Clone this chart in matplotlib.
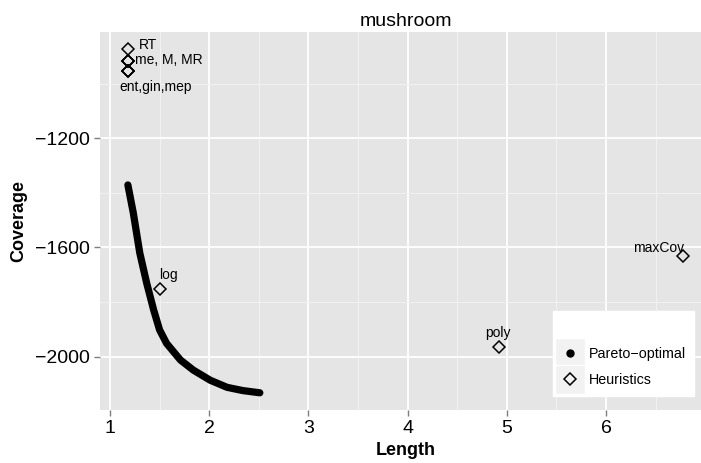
import matplotlib
matplotlib.use("Agg")
import matplotlib.pyplot as plt
from matplotlib.lines import Line2D
from matplotlib.patches import Rectangle
from matplotlib.legend_handler import HandlerLine2D

plt.rcParams['font.family'] = ['Liberation Sans', 'DejaVu Sans']

# Pareto-optimal front
pareto_len = [1.18, 1.235, 1.30, 1.37, 1.44, 1.50, 1.57, 1.71, 1.84, 2.01, 2.18, 2.34, 2.51]
pareto_cov = [-1371, -1474, -1620, -1731, -1829, -1902, -1951, -2012, -2049, -2086, -2112, -2124, -2132]

# heuristics
heur_names = ["RT", "me", "M", "MR", "ent", "gin", "mep", "log", "poly", "maxCov"]
heur_len = [1.18, 1.18, 1.18, 1.18, 1.18, 1.18, 1.18, 1.50, 4.92, 6.78]
heur_cov = [-873, -917, -917, -917, -954, -954, -954, -1751, -1963, -1630]

# text labels shown next to the heuristics
label_text = ["RT", "me, M, MR", "ent,gin,mep", "log", "poly", "maxCov"]
label_len = [1.18, 1.18, 1.18, 1.50, 4.92, 6.78]
label_cov = [-873, -917, -954, -1751, -1963, -1630]
label_off = [(11, 4), (7, 1), (28, -16), (9, 14), (-1, 14), (-25, 8)]  # pixels
label_ha = ["left", "left", "center", "center", "center", "center"]

xticks = [1, 2, 3, 4, 5, 6, 7]
yticks = [-2000, -1600, -1200]


class KeyWithBox(HandlerLine2D):
    # ggplot style legend key: light grey square behind the symbol
    def create_artists(self, legend, orig_handle, xdescent, ydescent, width, height, fontsize, trans):
        side = height + 14
        cx = width / 2 - xdescent
        cy = height / 2 - ydescent
        box = Rectangle((cx - side / 2, cy - side / 2), side, side, facecolor='#F2F2F2',
                        edgecolor='white', linewidth=1, transform=trans)
        arts = super().create_artists(legend, orig_handle, xdescent, ydescent, width, height, fontsize, trans)
        return [box] + arts


fig = plt.figure(figsize=(7.01, 4.63), dpi=100)
W, H = 701, 463
ax = fig.add_axes([100 / W, 53 / H, 611 / W, 378 / H])
ax.set_facecolor('#E5E5E5')
for s in ax.spines.values():
    s.set_visible(False)

ax.set_xlim(0.899, 7.058)
ax.set_ylim(-2195, -811)
ax.set_xticks(xticks)
ax.set_yticks(yticks)
ax.set_yticklabels([str(v).replace('-', '\u2212') for v in yticks])
ax.set_xticks([1.5, 2.5, 3.5, 4.5, 5.5, 6.5], minor=True)
ax.set_yticks([-1800, -1400, -1000], minor=True)
ax.grid(which='major', color='white', linewidth=1.3)
ax.grid(which='minor', color='#F2F2F2', linewidth=0.7)
ax.set_axisbelow(True)
ax.tick_params(which='major', length=4, width=1, color='#7F7F7F', labelsize=14, labelcolor='black', pad=3)
ax.tick_params(which='minor', length=0)

ax.plot(pareto_len, pareto_cov, color='black', linewidth=5.2,
        solid_capstyle='round', solid_joinstyle='round', zorder=3)
ax.plot(heur_len, heur_cov, linestyle='none', marker='D', markersize=6,
        markerfacecolor='none', markeredgecolor='black', markeredgewidth=1.1, zorder=4)

for t, x, y, off, ha in zip(label_text, label_len, label_cov, label_off, label_ha):
    ax.annotate(t, (x, y), xytext=off, textcoords='offset pixels',
                ha=ha, va='center', fontsize=10, color='black')

ax.set_title('mushroom', fontsize=14, pad=4)
ax.set_xlabel('Length', fontsize=13, fontweight='bold', labelpad=4)
ax.set_ylabel('Coverage', fontsize=13, fontweight='bold', labelpad=6)

handles = [Line2D([], [], linestyle='none', marker='o', markersize=5, color='black'),
           Line2D([], [], linestyle='none', marker='D', markersize=6,
                  markerfacecolor='none', markeredgecolor='black', markeredgewidth=1.1)]
leg = ax.legend(handles, ['Pareto\u2212optimal', 'Heuristics'], loc='lower left',
                bbox_to_anchor=(553 / W, (463 - 396) / H), bbox_transform=fig.transFigure,
                borderaxespad=0, frameon=True, fancybox=False, fontsize=10.3,
                title=' ', title_fontsize=11,
                handlelength=1.2, handletextpad=0.7, borderpad=0.6, labelspacing=0.9,
                handler_map={Line2D: KeyWithBox()})
leg.get_frame().set_facecolor('white')
leg.get_frame().set_edgecolor('white')
leg.get_frame().set_alpha(1)

fig.savefig('out.png', dpi=100)
